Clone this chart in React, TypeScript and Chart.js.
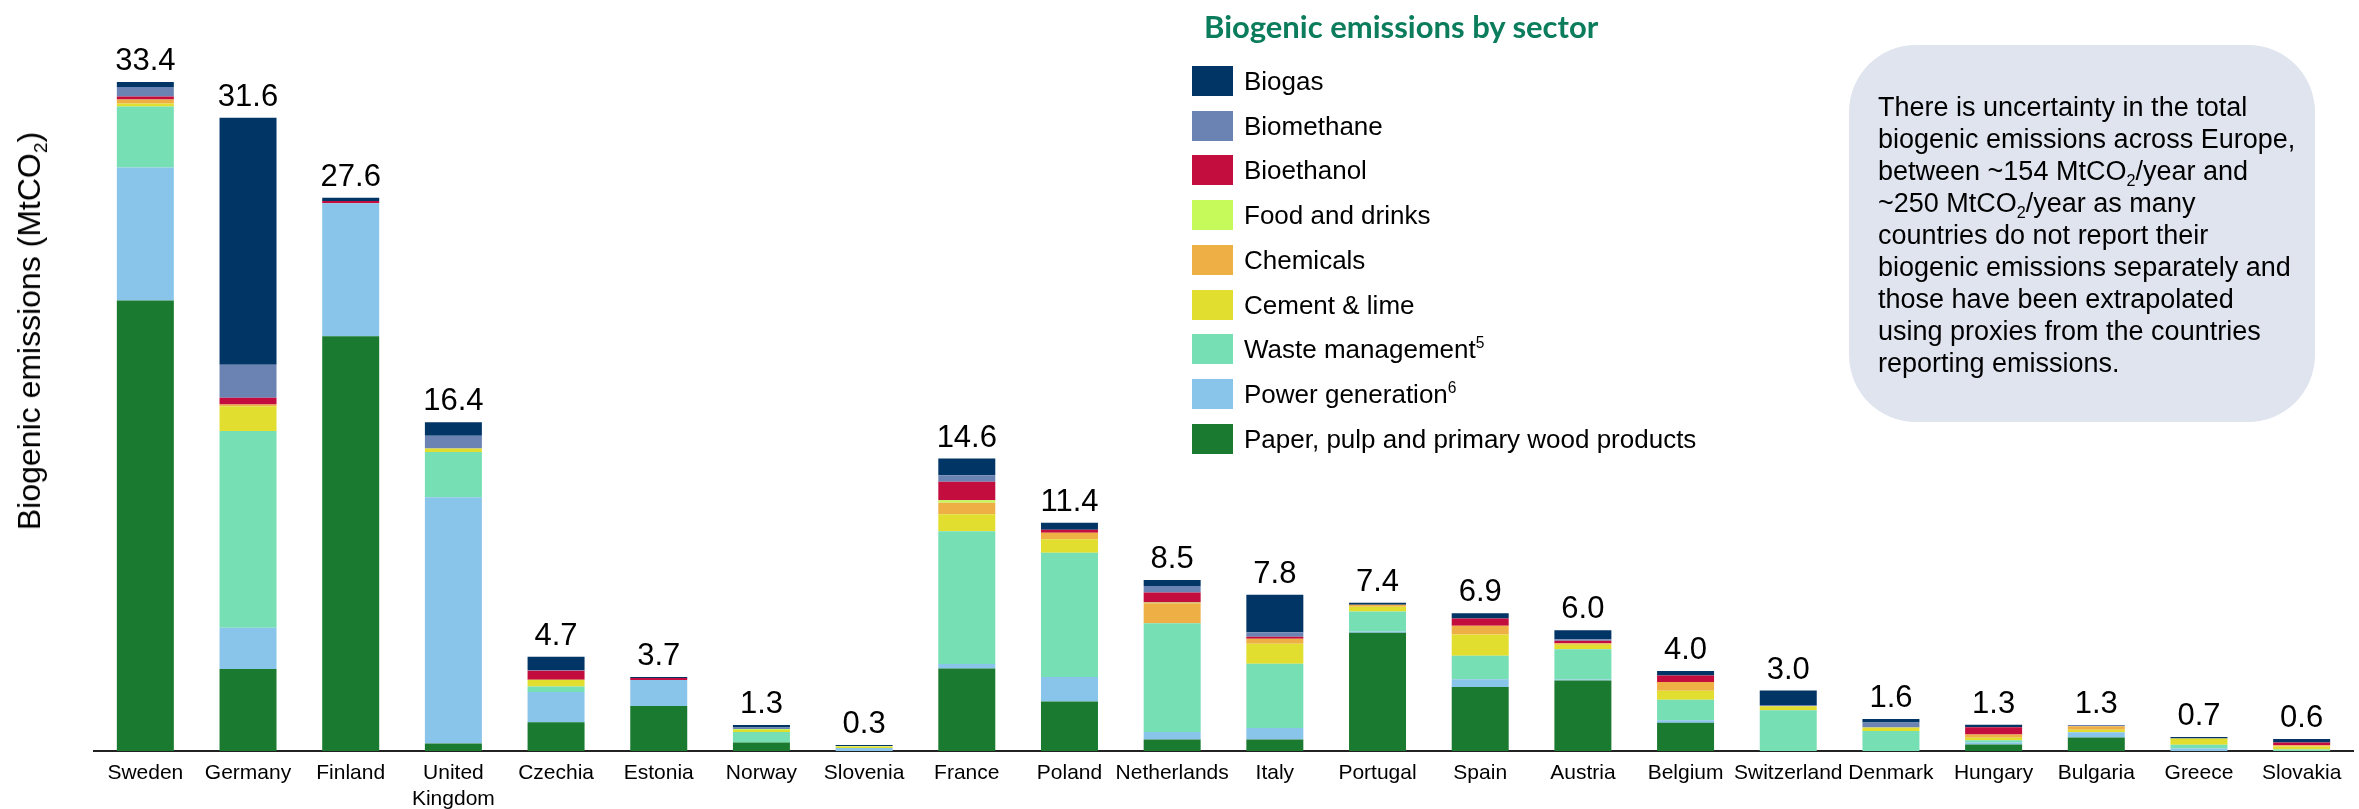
import React, { useEffect, useRef } from "react";
import { Chart, registerables } from "chart.js";

Chart.register(...registerables);

const countries: (string | string[])[] = [
  "Sweden", "Germany", "Finland", ["United", "Kingdom"], "Czechia", "Estonia", "Norway", "Slovenia",
  "France", "Poland", "Netherlands", "Italy", "Portugal", "Spain", "Austria", "Belgium",
  "Switzerland", "Denmark", "Hungary", "Bulgaria", "Greece", "Slovakia",
];

const totalLabels = [
  "33.4", "31.6", "27.6", "16.4", "4.7", "3.7", "1.3", "0.3", "14.6", "11.4", "8.5",
  "7.8", "7.4", "6.9", "6.0", "4.0", "3.0", "1.6", "1.3", "1.3", "0.7", "0.6",
];

// Series values (MtCO2), bottom of stack first
const paper = [22.5, 4.09, 20.71, 0.38, 1.43, 2.25, 0.43, 0, 4.12, 2.47, 0.58, 0.58, 5.9, 3.19, 3.52, 1.41, 0, 0, 0.32, 0.67, 0, 0];
const power = [6.64, 2.06, 6.64, 12.29, 1.52, 1.3, 0, 0.15, 0.22, 1.22, 0.37, 0.57, 0.07, 0.39, 0.05, 0.13, 0, 0, 0.1, 0.27, 0.13, 0];
const waste = [3.04, 9.83, 0, 2.26, 0.27, 0, 0.52, 0, 6.63, 6.21, 5.43, 3.21, 1.0, 1.17, 1.51, 1.02, 2.03, 1.0, 0.12, 0, 0.18, 0.07];
const cement = [0.15, 1.23, 0, 0.18, 0.34, 0, 0.1, 0.07, 0.85, 0.67, 0, 0.99, 0.23, 1.07, 0.23, 0.45, 0.2, 0.17, 0.12, 0.12, 0.31, 0.15];
const chemicals = [0.2, 0.09, 0, 0, 0, 0, 0, 0, 0.58, 0.33, 1.0, 0.25, 0.1, 0.44, 0.07, 0.44, 0, 0, 0.17, 0.17, 0, 0.07];
const food = [0, 0, 0, 0, 0, 0, 0.05, 0.03, 0.12, 0, 0.03, 0, 0, 0, 0, 0, 0, 0, 0, 0, 0, 0];
const bioethanol = [0.15, 0.34, 0.11, 0, 0.45, 0.1, 0, 0, 0.92, 0.15, 0.5, 0.1, 0, 0.35, 0.12, 0.32, 0, 0, 0.35, 0, 0, 0.13];
const biomethane = [0.48, 1.65, 0, 0.63, 0.04, 0, 0.07, 0, 0.33, 0, 0.33, 0.23, 0, 0, 0.08, 0, 0.07, 0.25, 0, 0.07, 0, 0];
const biogas = [0.25, 12.33, 0.16, 0.67, 0.65, 0.05, 0.13, 0.05, 0.83, 0.35, 0.3, 1.87, 0.1, 0.27, 0.45, 0.23, 0.72, 0.18, 0.13, 0, 0.08, 0.18];

const seriesNames = [
  "Paper, pulp and primary wood products", "Power generation", "Waste management", "Cement & lime",
  "Chemicals", "Food and drinks", "Bioethanol", "Biomethane", "Biogas",
];
const seriesFootnotes = ["", "6", "5", "", "", "", "", "", ""];
const seriesValues = [paper, power, waste, cement, chemicals, food, bioethanol, biomethane, biogas];
const seriesColors = [
  "#1A7A2F", "#89C4EA", "#76DFB4", "#E2DE30", "#EEAF45", "#C6FA5A", "#C30D3E", "#6A83B3", "#013565",
];

const FONT = "'Liberation Sans', Arial, Helvetica, sans-serif";

const totalsPlugin = {
  id: "totals",
  afterDatasetsDraw(chart: any) {
    const { ctx } = chart;
    const x = chart.scales.x;
    const y = chart.scales.y;
    ctx.save();
    ctx.font = `31px ${FONT}`;
    ctx.fillStyle = "#000";
    ctx.textAlign = "center";
    ctx.textBaseline = "alphabetic";
    countries.forEach((_, i) => {
      const sum = seriesValues.reduce((a, s) => a + s[i], 0);
      ctx.fillText(totalLabels[i], x.getPixelForValue(i), y.getPixelForValue(sum) - 12);
    });
    ctx.restore();
  },
};

export default function App() {
  const ref = useRef<HTMLCanvasElement>(null);
  useEffect(() => {
    if (!ref.current) return;
    const chart = new Chart(ref.current, {
      type: "bar",
      data: {
        labels: countries as any,
        datasets: seriesValues.map((vals, k) => ({
          label: seriesNames[k],
          data: vals,
          backgroundColor: seriesColors[k],
          borderWidth: 0,
          barPercentage: 0.555,
          categoryPercentage: 1.0,
        })),
      },
      options: {
        animation: false,
        responsive: false,
        layout: { padding: { left: 94, right: 6, top: 10, bottom: 0 } },
        plugins: { legend: { display: false }, tooltip: { enabled: false } },
        scales: {
          x: {
            stacked: true,
            grid: { display: false, drawTicks: false },
            border: { display: true, color: "#222", width: 2 },
            ticks: {
              color: "#000",
              font: { family: FONT, size: 21, lineHeight: 1.25 },
              padding: 9,
              maxRotation: 0,
              autoSkip: false,
            },
            afterFit: (s: any) => {
              s.height = 58;
            },
          },
          y: {
            stacked: true,
            display: false,
            min: 0,
            max: 37,
          },
        },
      },
      plugins: [totalsPlugin],
    });
    return () => chart.destroy();
  }, []);

  const legendOrder = [8, 7, 6, 5, 4, 3, 2, 1, 0];

  return (
    <div style={{ position: "fixed", left: 0, top: 0, width: 2359, height: 809, background: "#fff", overflow: "hidden", fontFamily: FONT }}>
      <canvas ref={ref} width={2359} height={809} style={{ position: "absolute", left: 0, top: 0 }} />
      <div
        style={{
          position: "absolute",
          left: 29,
          top: 331,
          transform: "translate(-50%, -50%) rotate(-90deg)",
          fontSize: 32,
          whiteSpace: "nowrap",
          color: "#000",
          lineHeight: "36px",
        }}
      >
        Biogenic emissions (MtCO<sub style={{ fontSize: "0.6em", lineHeight: 0 }}>2</sub>)
      </div>
      <div
        style={{
          position: "absolute",
          left: 1204,
          top: 6,
          fontFamily: "Lato, 'Open Sans', sans-serif",
          fontWeight: 700,
          fontSize: 31,
          color: "#0B7D5C",
          whiteSpace: "nowrap",
          lineHeight: "40px",
        }}
      >
        Biogenic emissions by sector
      </div>
      {legendOrder.map((k, j) => (
        <div
          key={k}
          style={{ position: "absolute", left: 1192, top: 81 + j * 44.7 - 15, height: 30, display: "flex", alignItems: "center", whiteSpace: "nowrap" }}
        >
          <div style={{ width: 41, height: 30, background: seriesColors[k], marginRight: 11 }} />
          <span style={{ fontSize: 26, color: "#000", lineHeight: "30px" }}>
            {seriesNames[k]}
            {seriesFootnotes[k] ? <sup style={{ fontSize: "0.6em", lineHeight: 0 }}>{seriesFootnotes[k]}</sup> : null}
          </span>
        </div>
      ))}
      <div
        style={{
          position: "absolute",
          left: 1849,
          top: 45,
          width: 466,
          height: 377,
          borderRadius: 67,
          background: "#DFE4EF",
          boxSizing: "border-box",
          paddingLeft: 29,
          paddingTop: 91 - 45,
          fontSize: 27,
          lineHeight: "32px",
          color: "#000",
          whiteSpace: "nowrap",
        }}
      >
        There is uncertainty in the total<br />
        biogenic emissions across Europe,<br />
        between ~154 MtCO<sub style={{ fontSize: "0.6em", lineHeight: 0 }}>2</sub>/year and<br />
        ~250 MtCO<sub style={{ fontSize: "0.6em", lineHeight: 0 }}>2</sub>/year as many<br />
        countries do not report their<br />
        biogenic emissions separately and<br />
        those have been extrapolated<br />
        using proxies from the countries<br />
        reporting emissions.
      </div>
    </div>
  );
}
